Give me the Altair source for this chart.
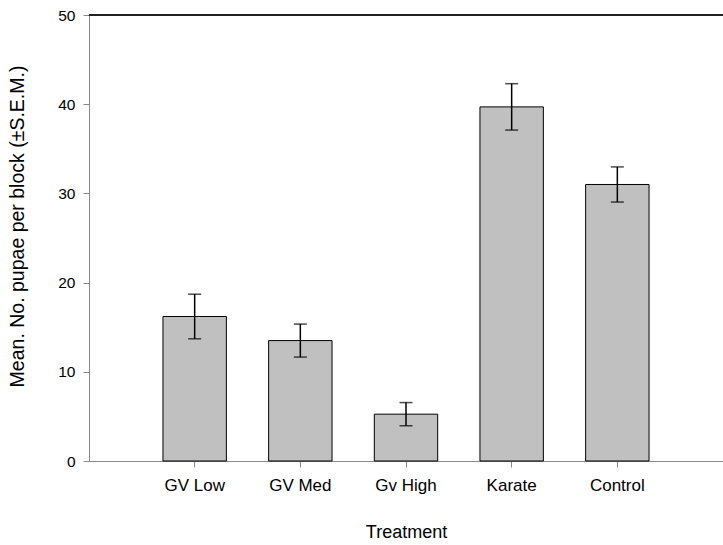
import altair as alt
import pandas as pd

# Treatment means and standard errors
treatments = ["GV Low", "GV Med", "Gv High", "Karate", "Control"]
means = [16.2, 13.5, 5.25, 39.7, 31.0]
sems = [2.5, 1.85, 1.3, 2.6, 1.97]

df = pd.DataFrame({"Treatment": treatments, "mean": means, "sem": sems})
df["lo"] = df["mean"] - df["sem"]
df["hi"] = df["mean"] + df["sem"]

W, H = 634, 446
FONT = "Liberation Sans"

x_enc = alt.X(
    "Treatment:N",
    sort=treatments,
    scale=alt.Scale(paddingInner=0.4, paddingOuter=0.7),
    axis=alt.Axis(
        title="Treatment",
        labelAngle=0,
        tickSize=6,
        labelPadding=10,
        labelFontSize=17,
        titleFontSize=18,
        titleFontWeight="normal",
        titlePadding=30,
    ),
)
y_scale = alt.Scale(domain=[0, 50], nice=False, zero=True)

base = alt.Chart(df)

bars = base.mark_bar(color="#c0c0c0", stroke="black", strokeWidth=1).encode(
    x=x_enc,
    y=alt.Y(
        "mean:Q",
        scale=y_scale,
        axis=alt.Axis(
            title="Mean. No. pupae per block (±S.E.M.)",
            values=[0, 10, 20, 30, 40, 50],
            tickSize=6,
            labelPadding=8,
            labelFontSize=15.5,
            titleFontSize=19.5,
            titleFontWeight="normal",
            titlePadding=30,
            titleY=211,
            grid=False,
        ),
    ),
)

whisker = base.mark_rule(color="black", strokeWidth=1.5).encode(
    x=alt.X("Treatment:N", sort=treatments),
    y=alt.Y("lo:Q", scale=y_scale),
    y2="hi:Q",
)
cap_lo = base.mark_tick(color="black", size=13, thickness=1.5).encode(
    x=alt.X("Treatment:N", sort=treatments),
    y=alt.Y("lo:Q", scale=y_scale),
)
cap_hi = base.mark_tick(color="black", size=13, thickness=1.5).encode(
    x=alt.X("Treatment:N", sort=treatments),
    y=alt.Y("hi:Q", scale=y_scale),
)

# frame line across the top of the plot
top_line = alt.Chart(df).mark_rule(color="#222222", strokeWidth=1.5).encode(
    y=alt.datum(50),
    x=alt.value(0),
    x2=alt.value(W),
)

chart = (
    alt.layer(bars, whisker, cap_lo, cap_hi, top_line)
    .properties(
        width=W,
        height=H,
        autosize=alt.AutoSizeParams(type="none"),
        padding={"left": 89, "top": 15, "right": 0, "bottom": 84},
    )
    .configure_view(stroke=None)
    .configure_axis(
        domainColor="#111111",
        tickColor="#111111",
        labelColor="black",
        titleColor="black",
        labelFont=FONT,
        titleFont=FONT,
        domainWidth=1.2,
        tickWidth=1.2,
    )
    .configure(background="white")
)

chart.save("out.html", embed_options={"renderer": "svg", "actions": False})
